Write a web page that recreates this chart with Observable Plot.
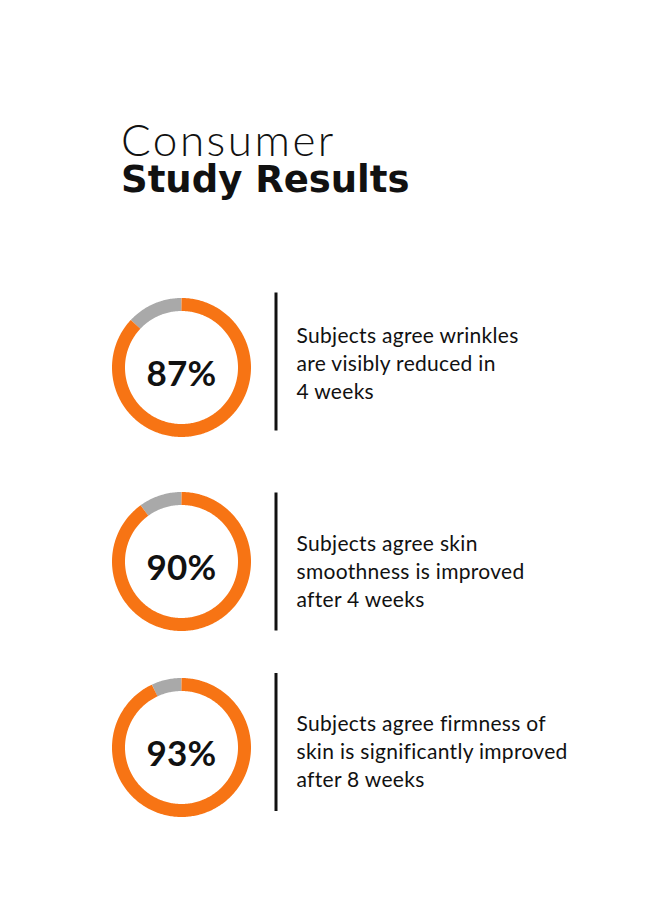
<!DOCTYPE html>
<html><head><meta charset="utf-8">
<script src="https://cdn.jsdelivr.net/npm/d3@7"></script>
<script src="https://cdn.jsdelivr.net/npm/@observablehq/plot@0.6"></script>
<style>
html,body{margin:0;padding:0;background:#fff;}
#page{position:relative;width:660px;height:900px;overflow:hidden;font-family:Lato,"Open Sans",sans-serif;color:#111;}
.t1{position:absolute;left:121px;top:122px;font-size:44px;font-weight:300;line-height:0.8;letter-spacing:2.5px;white-space:nowrap;}
.t2{position:absolute;left:121px;top:163px;font-family:"DejaVu Sans",sans-serif;font-size:37px;font-weight:700;line-height:0.9;white-space:nowrap;}
.row{position:absolute;left:0;}
</style></head>
<body><div id="page">
<div class="t1" id="t1"></div>
<div class="t2" id="t2"></div>
</div>
<script>
// ---- data ----
const titleLines = ["Consumer", "Study Results"];
const labels = ["87%", "90%", "93%"];
const values = [87, 90, 93];
const descriptions = [
  "Subjects agree wrinkles\nare visibly reduced in\n4 weeks",
  "Subjects agree skin\nsmoothness is improved\nafter 4 weeks",
  "Subjects agree firmness of\nskin is significantly improved\nafter 8 weeks"
];

// ---- layout / style ----
const ORANGE = "#f77414", GRAY = "#a9a9a9", INK = "#111";
const R = 63;            // ring mid radius in px
const CX = 181;          // ring centre x
const H = 160;           // svg height per row
const centers = [366.5, 560.5, 747];
const textOffset = [-5.5, 8.5, 2.5];
const ruleOffset = [-5.5, 0.5, -5];
const ruleHalf = 69;
const ruleXpx = 275.5, textXpx = 296;

document.getElementById("t1").textContent = titleLines[0];
document.getElementById("t2").textContent = titleLines[1];

function arc(from, to) {
  const n = Math.max(2, Math.ceil((to - from) * 360));
  return d3.range(n + 1).map(i => {
    const a = 2 * Math.PI * (from + (to - from) * i / n);
    return {x: Math.sin(a), y: Math.cos(a)};
  });
}

const page = document.getElementById("page");
values.forEach((v, i) => {
  const frac = v / 100;
  const chart = Plot.plot({
    width: 660, height: H,
    margin: 0,
    style: {background: "transparent", fontFamily: "Lato, 'Open Sans', sans-serif", color: INK, letterSpacing: "0.3px"},
    x: {domain: [-1, 1], range: [CX - R, CX + R], axis: null},
    y: {domain: [-1, 1], range: [H / 2 + R, H / 2 - R], axis: null},
    marks: [
      Plot.line(arc(frac, 1), {x: "x", y: "y", stroke: GRAY, strokeWidth: 13, strokeLinecap: "butt"}),
      Plot.line(arc(0, frac), {x: "x", y: "y", stroke: ORANGE, strokeWidth: 13, strokeLinecap: "butt"}),
      Plot.text([labels[i]], {x: () => 0, y: () => 0, text: d => d, fontSize: 35, fontWeight: 700, fill: INK, dy: 7.5}),
      Plot.ruleX([(ruleXpx - CX) / R], {x: d => d, y1: (ruleHalf - ruleOffset[i]) / R, y2: -(ruleHalf + ruleOffset[i]) / R, stroke: INK, strokeWidth: 3}),
      Plot.text([descriptions[i]], {x: () => (textXpx - CX) / R, y: () => 0, text: d => d, textAnchor: "start", lineAnchor: "middle", fontSize: 21, lineHeight: 1.34, fill: INK, dy: textOffset[i]})
    ]
  });
  const wrap = document.createElement("div");
  wrap.className = "row";
  wrap.style.top = (centers[i] - H / 2) + "px";
  wrap.appendChild(chart);
  page.appendChild(wrap);
});
</script>
</body></html>
